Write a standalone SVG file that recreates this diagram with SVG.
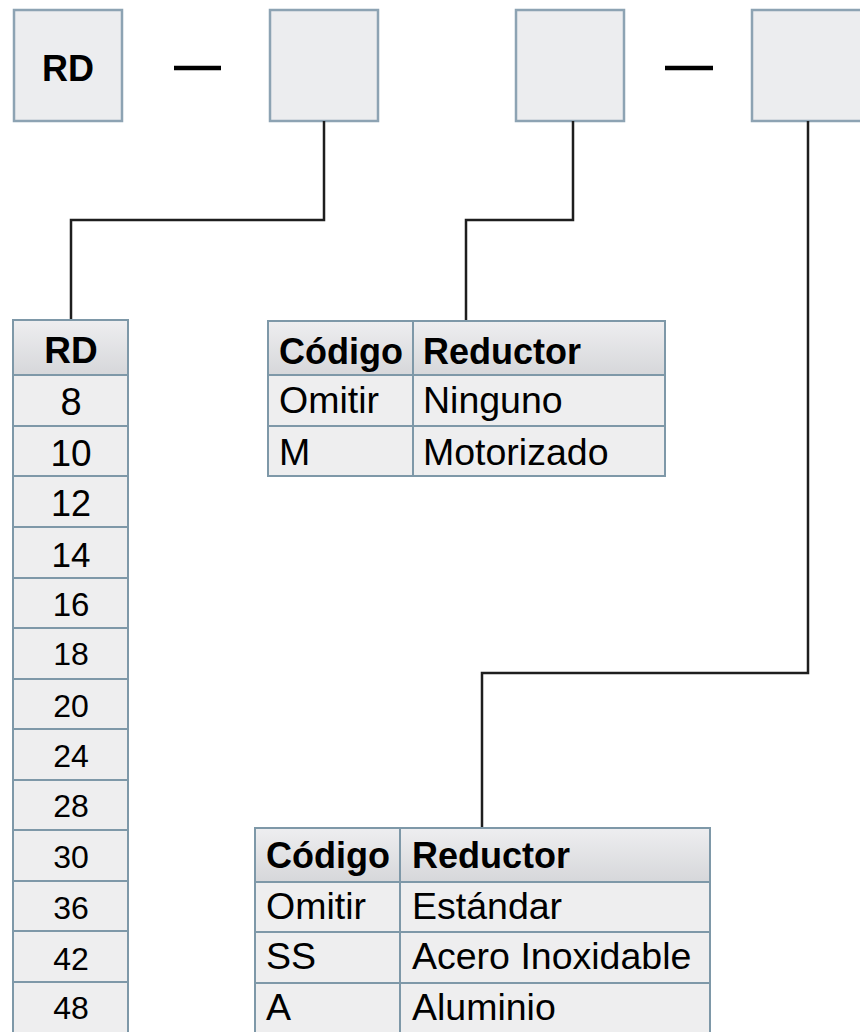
<svg xmlns="http://www.w3.org/2000/svg" width="860" height="1032" viewBox="0 0 860 1032">
<defs>
<linearGradient id="hdr" x1="0" y1="0" x2="0" y2="1">
<stop offset="0" stop-color="#EEEEF0"/>
<stop offset="1" stop-color="#D6D7DA"/>
</linearGradient>
<style>
.box{fill:#ECEDEF;stroke:#8DA3B3;stroke-width:2.5}
.cell{fill:#EEEEEF;stroke:#7E98A8;stroke-width:2}
.head{fill:url(#hdr);stroke:#7E98A8;stroke-width:2}
.grid{stroke:#7E98A8;stroke-width:2;fill:none}
.conn{fill:none;stroke:#1E1E1E;stroke-width:2.5}
.dash{stroke:#000;stroke-width:4.5}
text{font-family:"Liberation Sans",Arial,sans-serif;fill:#000}
.b{font-weight:bold}
.h{font-size:36px}
.t{font-size:37.5px}
.c{text-anchor:middle}
</style>
</defs>
<rect width="860" height="1032" fill="#FFFFFF"/>

<g id="box-rd">
<rect class="box" x="14" y="10" width="108" height="111"/>
<text class="b h c" x="68" y="81">RD</text>
</g>
<line class="dash" x1="174" y1="68" x2="221" y2="68"/>
<g id="box-size">
<rect class="box" x="270" y="10" width="108" height="111"/>
</g>
<g id="box-gear">
<rect class="box" x="516" y="10" width="108" height="111"/>
</g>
<line class="dash" x1="665" y1="68" x2="713" y2="68"/>
<g id="box-material">
<rect class="box" x="752" y="10" width="112" height="111"/>
</g>

<g id="connectors">
<polyline class="conn" points="324,121 324,220 71,220 71,320"/>
<polyline class="conn" points="573,121 573,220 466,220 466,321"/>
<polyline class="conn" points="808,121 808,673 482,673 482,827"/>
</g>

<g id="table-rd">
<rect class="head" x="13" y="320" width="115" height="55"/>
<rect class="cell" x="13" y="375" width="115" height="658"/>
<path class="grid" d="M13 426H128M13 476H128M13 527H128M13 578H128M13 628H128M13 679H128M13 729H128M13 780H128M13 830H128M13 881H128M13 931H128M13 982H128"/>
<text class="b c" x="71" y="363" font-size="37">RD</text>
<text class="c" x="71" y="415" font-size="38">8</text>
<text class="c" x="71" y="466" font-size="37">10</text>
<text class="c" x="71" y="516" font-size="36">12</text>
<text class="c" x="71" y="567" font-size="35">14</text>
<text class="c" x="71" y="616" font-size="33">16</text>
<text class="c" x="71" y="665" font-size="32">18</text>
<text class="c" x="71" y="717" font-size="32">20</text>
<text class="c" x="71" y="767" font-size="32">24</text>
<text class="c" x="71" y="817" font-size="32">28</text>
<text class="c" x="71" y="868" font-size="32">30</text>
<text class="c" x="71" y="919" font-size="32">36</text>
<text class="c" x="71" y="970" font-size="32">42</text>
<text class="c" x="71" y="1019" font-size="32">48</text>
</g>

<g id="table-gear">
<rect class="head" x="268" y="321" width="397" height="54"/>
<rect class="cell" x="268" y="375" width="397" height="101"/>
<path class="grid" d="M268 426H665M413 321V476"/>
<text class="b h" x="279" y="364">Código</text>
<text class="b h" x="423" y="364">Reductor</text>
<text class="t" x="279" y="413">Omitir</text>
<text class="t" x="423" y="413">Ninguno</text>
<text class="t" x="279" y="465">M</text>
<text class="t" x="423" y="465">Motorizado</text>
</g>

<g id="table-material">
<rect class="head" x="255" y="828" width="455" height="54"/>
<rect class="cell" x="255" y="882" width="455" height="152"/>
<path class="grid" d="M255 932H710M255 983H710M400 828V1034"/>
<text class="b h" x="266" y="868">Código</text>
<text class="b h" x="412" y="868">Reductor</text>
<text class="t" x="266" y="919">Omitir</text>
<text class="t" x="412" y="919">Estándar</text>
<text class="t" x="266" y="969">SS</text>
<text class="t" x="412" y="969">Acero Inoxidable</text>
<text class="t" x="266" y="1020">A</text>
<text class="t" x="412" y="1020">Aluminio</text>
</g>
</svg>
